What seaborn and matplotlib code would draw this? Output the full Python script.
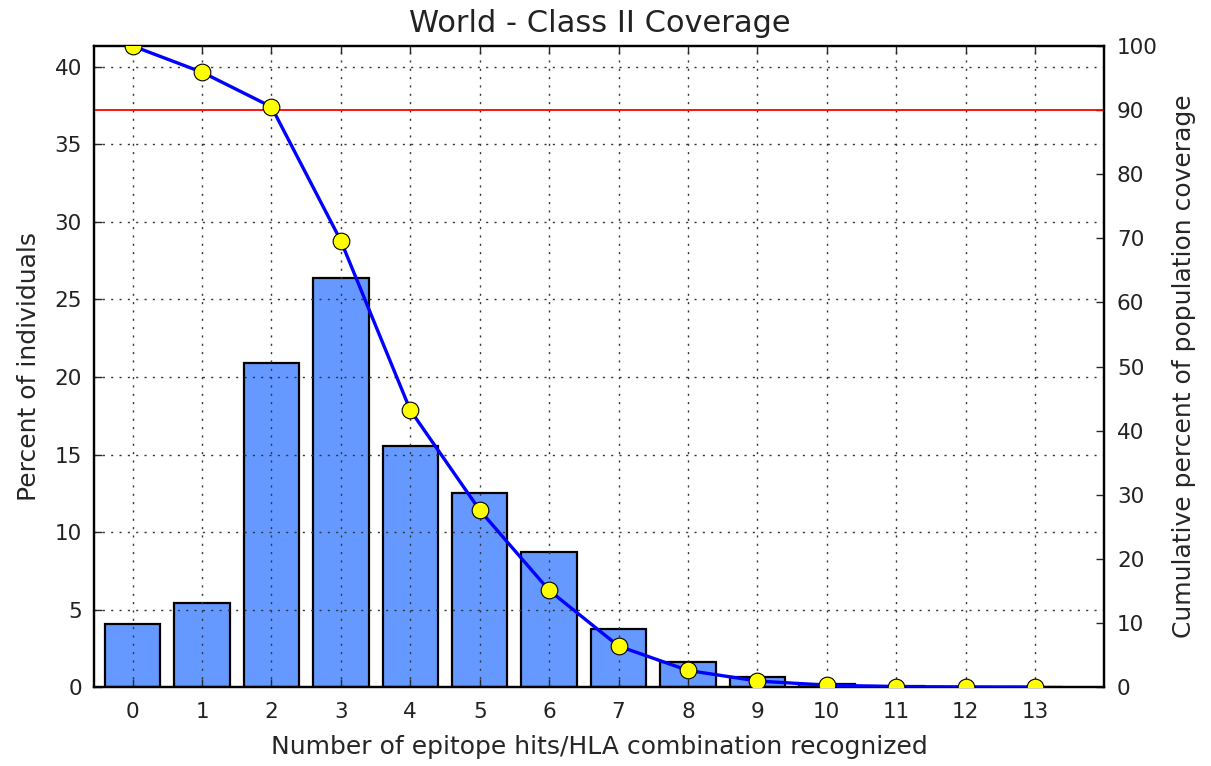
import matplotlib
matplotlib.use("Agg")
import matplotlib.pyplot as plt
import seaborn as sns
import pandas as pd

# values
hits = list(range(14))
percent_individuals = [4.05, 5.4, 20.9, 26.4, 15.55, 12.5, 8.7, 3.75, 1.65, 0.65, 0.2, 0.05, 0.01, 0.0]
cumulative_coverage = [100.0, 95.9, 90.5, 69.6, 43.2, 27.6, 15.1, 6.4, 2.6, 0.95, 0.3, 0.08, 0.02, 0.0]
target_coverage = 90

df = pd.DataFrame({"hits": hits, "pct": percent_individuals, "cum": cumulative_coverage})

sns.set_style("white")
plt.rcParams["font.family"] = ["DejaVu Sans"]
plt.rcParams["xtick.direction"] = "in"
plt.rcParams["ytick.direction"] = "in"
plt.rcParams["text.color"] = "#222222"

fig = plt.figure(figsize=(12.11, 7.66), dpi=100)
ax = fig.add_axes([0.078, 0.103, 0.834, 0.837])

sns.barplot(data=df, x="hits", y="pct", color="#6699FF", saturation=1,
            edgecolor="black", linewidth=1.6, width=0.8, ax=ax, zorder=2)
ax.set_xlim(-0.55, 14.0)
ax.set_ylim(0, 41.35)
ax.set_yticks(range(0, 41, 5))
ax.set_xticks(hits)
ax.set_xticklabels([str(h) for h in hits])
ax.grid(True, color="#333333", linestyle=(0, (1.5, 4.5)), linewidth=1, zorder=3)
ax.set_axisbelow(False)
ax.tick_params(axis="x", top=True, bottom=True, length=6, width=1, labelsize=15.5, pad=11,
               labelcolor="#222222")
ax.tick_params(axis="y", left=True, right=False, length=6, width=1, labelsize=15.5, pad=9,
               labelcolor="#222222")
for s in ax.spines.values():
    s.set_linewidth(1.6)
    s.set_color("black")
ax.set_xlabel("Number of epitope hits/HLA combination recognized", fontsize=18, labelpad=9)
ax.set_ylabel("Percent of individuals", fontsize=18, labelpad=10)
ax.set_title("World - Class II Coverage", fontsize=22, pad=10)

ax2 = ax.twinx()
ax2.axhline(target_coverage, color="red", linewidth=1.3, zorder=1)
sns.lineplot(data=df, x="hits", y="cum", color="blue", linewidth=2.4,
             marker="o", markersize=12, markerfacecolor="yellow",
             markeredgecolor="black", markeredgewidth=0.8, ax=ax2, zorder=3)
ax2.set_ylim(0, 100)
ax2.set_yticks(range(0, 101, 10))
ax2.set_xlim(-0.55, 14.0)
ax2.tick_params(axis="y", right=True, length=6, width=1, labelsize=15.5, pad=9,
                labelcolor="#222222")
ax2.set_ylabel("Cumulative percent of population coverage", fontsize=18, labelpad=10)
ax2.set_xlabel("")
for s in ax2.spines.values():
    s.set_linewidth(1.6)
    s.set_color("black")

fig.savefig("out.png", dpi=100)
